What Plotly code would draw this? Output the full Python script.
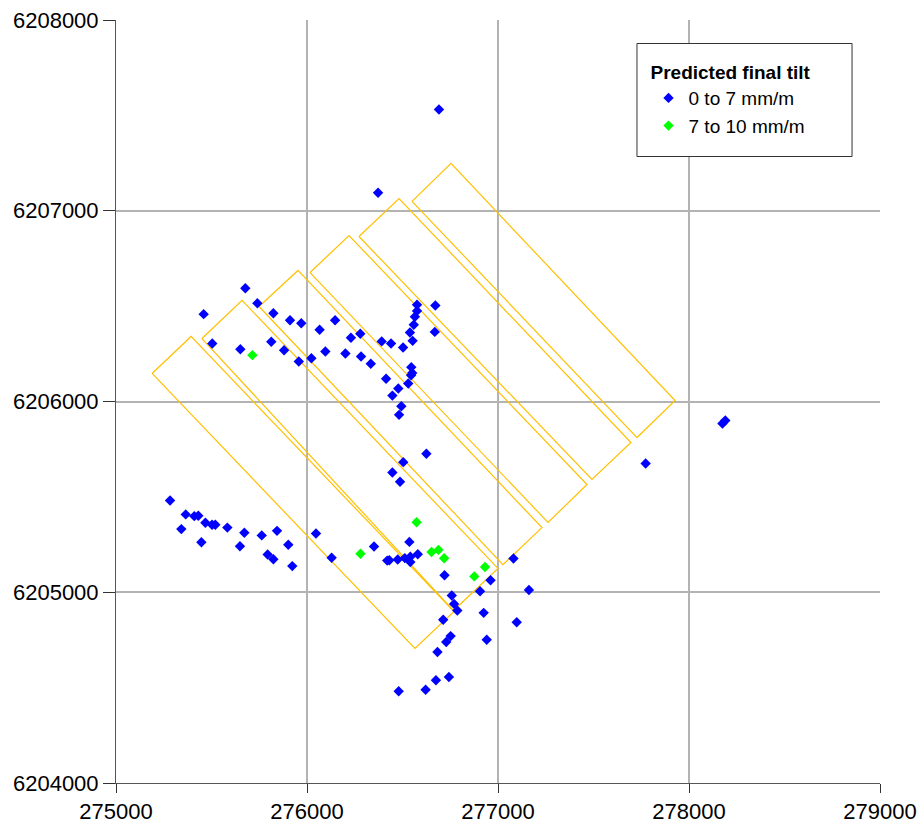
import plotly.graph_objects as go

# Observation points, predicted final tilt 0 to 7 mm/m (easting, northing)
low_east = [
    276691, 276372, 275677, 275740, 275459, 275824, 275911, 275970, 276147, 276066,
    276279, 276230, 275504, 275651, 275813, 275880, 275957, 276023, 276096, 276201,
    276283, 276334, 276391, 276440, 276503, 276553, 276539, 276559, 276565, 276576,
    276576, 276672, 276669, 276546, 276551, 276545, 276414, 276530, 276478, 276447,
    276494, 276482, 276625, 276504, 276447, 276487, 278175, 278190, 277773,
    275283, 275365, 275342, 275410, 275431, 275468, 275503, 275520, 275447, 275583,
    275672, 275649, 275763, 275843, 275794, 275824, 275902, 275923, 276047, 276129,
    276351, 276420, 276431, 276475, 276512, 276536, 276541, 276541, 276580, 276720,
    277081, 276961, 276906, 277162, 276758, 276770, 276787, 276713, 276925, 277098,
    276752, 276729, 276941, 276683, 276743, 276675, 276621, 276480,
]
low_north = [
    6207531, 6207094, 6206594, 6206515, 6206458, 6206463, 6206426, 6206410, 6206426, 6206376,
    6206355, 6206334, 6206304, 6206274, 6206313, 6206269, 6206210, 6206227, 6206262, 6206252,
    6206236, 6206198, 6206315, 6206304, 6206283, 6206318, 6206362, 6206402, 6206444, 6206475,
    6206507, 6206503, 6206365, 6206180, 6206150, 6206138, 6206119, 6206094, 6206068, 6206031,
    6205975, 6205930, 6205726, 6205682, 6205628, 6205579, 6205885, 6205900, 6205675,
    6205481, 6205408, 6205331, 6205399, 6205401, 6205364, 6205354, 6205354, 6205262, 6205339,
    6205312, 6205241, 6205298, 6205322, 6205198, 6205173, 6205249, 6205137, 6205308, 6205181,
    6205240, 6205166, 6205168, 6205172, 6205179, 6205264, 6205186, 6205158, 6205199, 6205089,
    6205177, 6205063, 6205005, 6205012, 6204983, 6204939, 6204904, 6204856, 6204892, 6204843,
    6204770, 6204739, 6204751, 6204687, 6204556, 6204539, 6204489, 6204481,
]

# Observation points, predicted final tilt 7 to 10 mm/m
high_east = [275714, 276280, 276574, 276652, 276688, 276718, 276932, 276876]
high_north = [6206243, 6205202, 6205367, 6205211, 6205222, 6205178, 6205132, 6205083]

# Panel outlines: corners in order left, top, right, bottom
panel_east = [
    [275189, 275393, 276770, 276565],
    [275450, 275660, 277000, 276767],
    [275749, 275953, 277230, 277026],
    [276016, 276220, 277466, 277262],
    [276272, 276482, 277696, 277492],
    [276550, 276754, 277927, 277728],
]
panel_north = [
    [6206147, 6206341, 6204899, 6204705],
    [6206330, 6206530, 6205125, 6204904],
    [6206498, 6206687, 6205339, 6205145],
    [6206676, 6206870, 6205565, 6205366],
    [6206865, 6207064, 6205785, 6205591],
    [6207049, 6207248, 6206005, 6205811],
]

x_ticks = [275000, 276000, 277000, 278000, 279000]
y_ticks = [6204000, 6205000, 6206000, 6207000, 6208000]

FONT = "Liberation Sans, Arial, sans-serif"

fig = go.Figure()

for ex, ny in zip(panel_east, panel_north):
    fig.add_trace(go.Scatter(
        x=ex + ex[:1], y=ny + ny[:1], mode="lines",
        line=dict(color="#FFC000", width=1.2),
        showlegend=False, hoverinfo="skip",
    ))

fig.add_trace(go.Scatter(
    x=low_east, y=low_north, mode="markers", name="0 to 7 mm/m",
    marker=dict(symbol="diamond", size=8, color="#0000FF"),
))
fig.add_trace(go.Scatter(
    x=high_east, y=high_north, mode="markers", name="7 to 10 mm/m",
    marker=dict(symbol="diamond", size=8, color="#00FF00"),
))

# Legend frame
fig.add_shape(
    type="rect", xref="paper", yref="paper",
    x0=0.6819, x1=0.9634, y0=0.8211, y1=0.9692,
    line=dict(color="#333333", width=1), fillcolor="white", layer="above",
)

axis_common = dict(
    showgrid=True, gridcolor="#b3b3b3", gridwidth=2,
    showline=True, linecolor="#555555", linewidth=1,
    zeroline=False, ticks="outside", tickcolor="#333333",
    automargin=False,
    tickformat="d", tickfont=dict(family=FONT, size=22, color="black"),
)

fig.update_layout(
    width=921, height=823,
    margin=dict(l=116, r=41, t=20, b=40, autoexpand=False),
    paper_bgcolor="white", plot_bgcolor="white",
    font=dict(family=FONT, color="black"),
    xaxis=dict(range=[275000, 279000], tickvals=x_ticks, ticklen=9, **axis_common),
    yaxis=dict(range=[6204000, 6208000], tickvals=y_ticks, ticklen=12, **axis_common),
    legend=dict(
        x=0.697, y=0.955, xanchor="left", yanchor="top",
        bgcolor="rgba(0,0,0,0)", borderwidth=0,
        title=dict(text="<b>Predicted final tilt</b>", font=dict(family=FONT, size=19)),
        font=dict(family=FONT, size=19),
        itemsizing="trace", tracegroupgap=0,
    ),
)

fig.write_html("out.html")
